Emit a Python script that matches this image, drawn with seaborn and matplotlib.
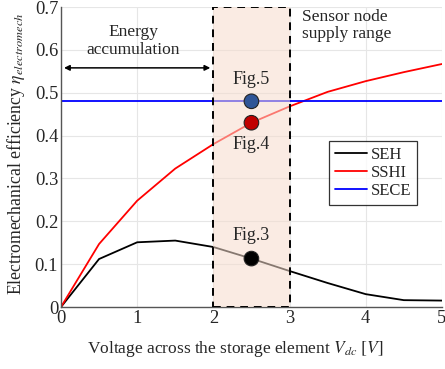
import matplotlib
matplotlib.use("Agg")
import matplotlib.pyplot as plt
import seaborn as sns
import pandas as pd
from matplotlib.patches import Rectangle

voltage = [0, 0.5, 1, 1.5, 2, 2.5, 3, 3.5, 4, 4.5, 5]
seh = [0, 0.112, 0.151, 0.155, 0.140, 0.113, 0.084, 0.056, 0.030, 0.016, 0.015]
sshi = [0, 0.147, 0.248, 0.323, 0.380, 0.430, 0.468, 0.502, 0.527, 0.548, 0.567]
sece = [0.48] * len(voltage)
series_names = ["SEH", "SSHI", "SECE"]
series_colors = ["#000000", "#ff0000", "#0000ff"]
point_x = [2.5, 2.5, 2.5]
point_y = [0.48, 0.43, 0.113]
point_labels = ["Fig.5", "Fig.4", "Fig.3"]
point_colors = ["#2f5597", "#c00000", "#000000"]

sns.set_theme(style="whitegrid")
plt.rcParams['font.family'] = ['Liberation Serif', 'DejaVu Serif']
plt.rcParams['mathtext.fontset'] = 'stix'

df = pd.DataFrame({
    "V": voltage * 3,
    "eta": seh + sshi + sece,
    "series": sum([[n] * len(voltage) for n in series_names], []),
})

fig, ax = plt.subplots(figsize=(4.45, 3.69), dpi=100)
fig.subplots_adjust(left=0.137, right=0.993, top=0.981, bottom=0.168)

sns.lineplot(data=df, x="V", y="eta", hue="series", palette=series_colors,
             hue_order=series_names, ax=ax, linewidth=1.3, zorder=2)

ax.add_patch(Rectangle((2, 0), 1, 0.7, facecolor="#f6dccd", alpha=0.55,
                       edgecolor="none", zorder=3))
ax.add_patch(Rectangle((2, 0), 1, 0.7, facecolor="none", edgecolor="black",
                       linestyle=(0, (4, 3)), linewidth=1.4, zorder=4))

ax.scatter(point_x, point_y, s=110, c=point_colors, edgecolors="#222222",
           linewidths=0.8, zorder=5)
offsets = [0.05, -0.05, 0.053]
for x, y, t, o in zip(point_x, point_y, point_labels, offsets):
    ax.text(x, y + o, t, ha="center", va="center", fontsize=13, zorder=6)

ax.annotate("", xy=(0.04, 0.558), xytext=(1.96, 0.558),
            arrowprops=dict(arrowstyle="<|-|>", color="black", lw=1.1,
                            mutation_scale=8, shrinkA=0, shrinkB=0))
ax.text(0.95, 0.62, "Energy\naccumulation", ha="center", va="center",
        fontsize=12.5, linespacing=1.15)
ax.text(3.17, 0.657, "Sensor node\nsupply range", ha="left", va="center",
        fontsize=12.5, linespacing=1.15)

ax.set_xlim(0, 5)
ax.set_ylim(0, 0.7)
ax.set_xticks([0, 1, 2, 3, 4, 5])
ax.set_yticks([0, 0.1, 0.2, 0.3, 0.4, 0.5, 0.6, 0.7])
ax.set_yticklabels(["0", "0.1", "0.2", "0.3", "0.4", "0.5", "0.6", "0.7"])
ax.tick_params(labelsize=13.3, pad=2, length=0)
ax.grid(True, color="#e6e6e6", linewidth=0.8)
for s in ["top", "right"]:
    ax.spines[s].set_visible(False)
for s in ["left", "bottom"]:
    ax.spines[s].set_color("#555555")
    ax.spines[s].set_linewidth(1.0)
ax.set_xlabel(r"Voltage across the storage element $V_{dc}$ $[V]$", fontsize=12.5, labelpad=8)
ax.xaxis.set_label_coords(0.457, -0.105)
ax.set_ylabel(r"Electromechanical efficiency $\eta_{electromech}$", fontsize=12.8, labelpad=3)
ax.yaxis.set_label_coords(-0.088, 0.51)

leg = ax.legend(loc="upper left", bbox_to_anchor=(0.704, 0.553), fontsize=12,
                frameon=True, fancybox=False, edgecolor="black",
                handlelength=1.9, handletextpad=0.25, borderpad=0.35,
                labelspacing=0.12, borderaxespad=0)
leg.get_frame().set_linewidth(0.9)
leg.set_zorder(7)

fig.savefig("out.png", dpi=100)
